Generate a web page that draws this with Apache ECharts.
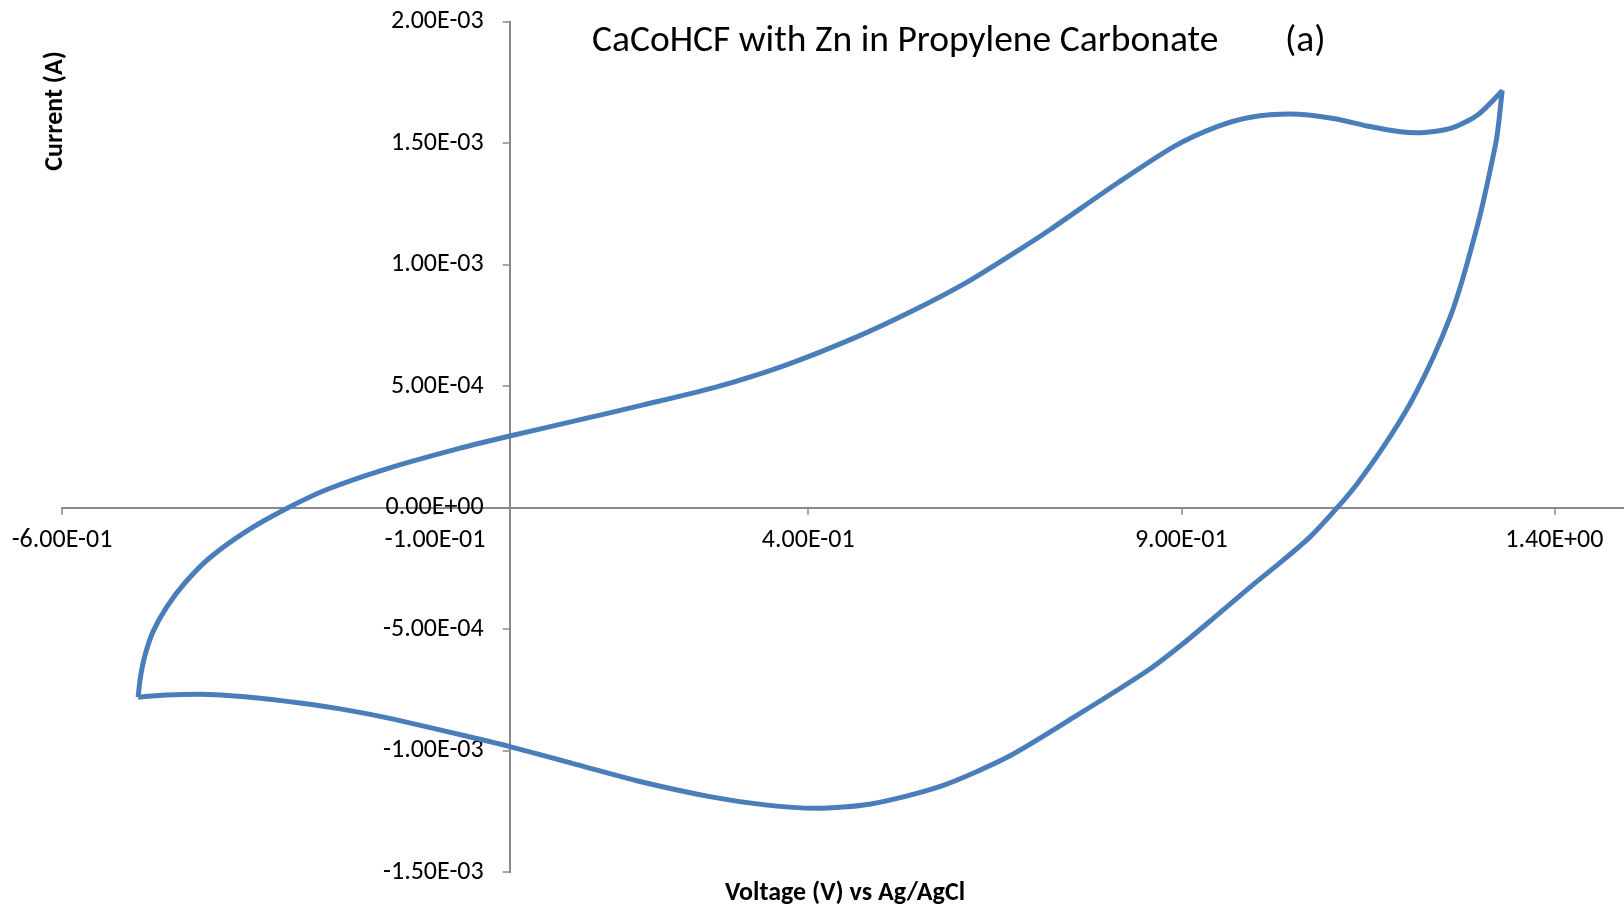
<!DOCTYPE html>
<html>
<head>
<meta charset="utf-8">
<script src="https://cdn.jsdelivr.net/npm/echarts@6/dist/echarts.min.js"></script>
<style>
  html, body { margin: 0; padding: 0; background: #fff; }
  #cv-chart { width: 1624px; height: 910px; }
</style>
</head>
<body>
<div id="cv-chart"></div>
<script>
// anodic sweep (left vertex -> right vertex)
var anodicV = [-0.498, -0.495, -0.489, -0.478, -0.460, -0.436, -0.402, -0.352, -0.297, -0.245,
  -0.165, -0.075, 0.0, 0.083, 0.179, 0.275, 0.370, 0.466, 0.538, 0.610,
  0.682, 0.725, 0.814, 0.890, 0.948, 0.993, 1.046, 1.104, 1.149, 1.194,
  1.216, 1.261, 1.297, 1.330];
var anodicI = [-7.80e-4, -7.00e-4, -6.10e-4, -5.10e-4, -4.10e-4, -3.12e-4, -2.06e-4, -0.95e-4, 0, 7.5e-5,
  1.60e-4, 2.38e-4, 2.95e-4, 3.54e-4, 4.23e-4, 4.95e-4, 5.87e-4, 7.04e-4, 8.07e-4, 9.23e-4,
  1.06e-3, 1.146e-3, 1.335e-3, 1.486e-3, 1.568e-3, 1.607e-3, 1.620e-3, 1.602e-3, 1.571e-3, 1.547e-3,
  1.543e-3, 1.561e-3, 1.616e-3, 1.716e-3];

// cathodic sweep (right vertex -> left vertex)
var cathodicV = [1.323, 1.314, 1.301, 1.288, 1.275, 1.261, 1.238, 1.207, 1.171, 1.136,
  1.109, 1.073, 1.037, 0.993, 0.948, 0.903, 0.856, 0.761, 0.668, 0.576,
  0.484, 0.410, 0.342, 0.268, 0.176, 0.084, 0.0, -0.040, -0.156, -0.214,
  -0.281, -0.348, -0.415, -0.460, -0.498];
var cathodicI = [1.527e-3, 1.39e-3, 1.211e-3, 1.06e-3, 9.2e-4, 7.9e-4, 6.21e-4, 4.30e-4, 2.51e-4, 1.00e-4,
  0, -1.19e-4, -2.15e-4, -3.25e-4, -4.42e-4, -5.58e-4, -6.68e-4, -8.53e-4, -1.025e-3, -1.148e-3,
  -1.219e-3, -1.237e-3, -1.223e-3, -1.189e-3, -1.128e-3, -1.052e-3, -9.83e-4, -9.53e-4, -8.70e-4, -8.35e-4,
  -8.04e-4, -7.80e-4, -7.68e-4, -7.71e-4, -7.80e-4];

var xTicks = [-0.6, -0.1, 0.4, 0.9, 1.4];

var xMin = -0.6, xMax = 1.5, yMin = -1.5e-3, yMax = 2e-3;
var fontName = 'Carlito, Lato, sans-serif';

function sci(v) {
  if (Math.abs(v) < 1e-12) return '0.00E+00';
  var e = Math.floor(Math.log10(Math.abs(v)) + 1e-9);
  var m = v / Math.pow(10, e);
  var ms = m.toFixed(2);
  if (Math.abs(parseFloat(ms)) >= 10) { e += 1; ms = (v / Math.pow(10, e)).toFixed(2); }
  var es = Math.abs(e) < 10 ? '0' + Math.abs(e) : '' + Math.abs(e);
  return ms + 'E' + (e < 0 ? '-' : '+') + es;
}

var loop = [];
for (var i = 0; i < anodicV.length; i++) loop.push([anodicV[i], anodicI[i]]);
for (var j = 0; j < cathodicV.length; j++) loop.push([cathodicV[j], cathodicI[j]]);

// plot box
var W = 1624, H = 910;
var gLeft = 62, gRight = -5, gTop = 21.7, gBottom = 37.8;
var gW = W - gLeft - gRight, gH = H - gTop - gBottom;
// move the axes so they cross at (0, 0), like the Excel original
var xAxisOffset = -(0 - yMin) / (yMax - yMin) * gH;
var yAxisOffset = -(0 - xMin) / (xMax - xMin) * gW;

var chart = echarts.init(document.getElementById('cv-chart'));

var option = {
  animation: false,
  grid: { left: gLeft, right: gRight, top: gTop, bottom: gBottom, containLabel: false, outerBoundsMode: 'none' },
  xAxis: {
    type: 'value',
    min: xMin,
    max: xMax,
    interval: 0.5,
    position: 'bottom',
    offset: xAxisOffset,
    axisLine: { onZero: false, lineStyle: { color: '#898989', width: 2 } },
    axisTick: { show: true, length: 7, customValues: xTicks, lineStyle: { color: '#898989', width: 1.5 } },
    axisLabel: {
      customValues: xTicks,
      margin: 20,
      color: '#000',
      fontFamily: fontName,
      fontSize: 26,
      formatter: function (v) { return sci(v); }
    },
    splitLine: { show: false }
  },
  yAxis: {
    type: 'value',
    min: yMin,
    max: yMax,
    interval: 5e-4,
    position: 'left',
    offset: yAxisOffset,
    axisLine: { onZero: false, lineStyle: { color: '#898989', width: 2 } },
    axisTick: { show: true, length: 7, lineStyle: { color: '#898989', width: 1.5 } },
    axisLabel: {
      margin: 26,
      color: '#000',
      fontFamily: fontName,
      fontSize: 26,
      formatter: function (v) { return sci(v); }
    },
    splitLine: { show: false }
  },
  graphic: [
    {
      type: 'text', x: 592, y: 42,
      style: { text: 'CaCoHCF with Zn in Propylene Carbonate', fill: '#000',
        font: '37.5px ' + fontName, textAlign: 'left', textVerticalAlign: 'middle' }
    },
    {
      type: 'text', x: 1285, y: 42,
      style: { text: '(a)', fill: '#000',
        font: '37.5px ' + fontName, textAlign: 'left', textVerticalAlign: 'middle' }
    },
    {
      type: 'text', x: 55, y: 111, rotation: Math.PI / 2,
      style: { text: 'Current (A)', fill: '#000',
        font: 'bold 26px ' + fontName, textAlign: 'center', textVerticalAlign: 'middle' }
    },
    {
      type: 'text', x: 845, y: 893,
      style: { text: 'Voltage (V) vs Ag/AgCl', fill: '#000',
        font: 'bold 26px ' + fontName, textAlign: 'center', textVerticalAlign: 'middle' }
    }
  ],
  series: [
    {
      name: 'CaCoHCF',
      type: 'line',
      data: loop,
      showSymbol: false,
      smooth: 0.25,
      lineStyle: { color: '#4a7ebb', width: 5 },
      z: 3
    }
  ]
};

chart.setOption(option);
</script>
</body>
</html>
